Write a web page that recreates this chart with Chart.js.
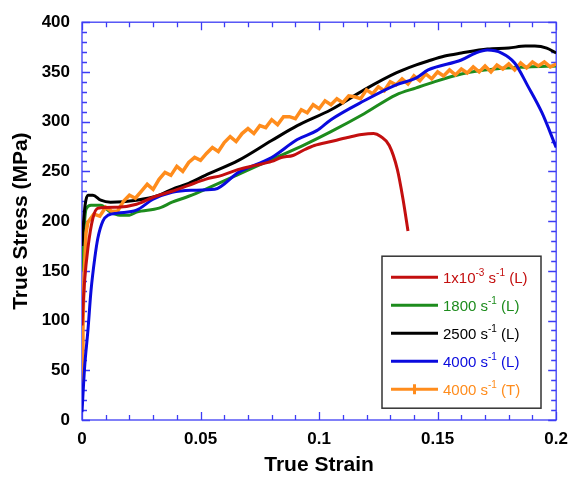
<!DOCTYPE html>
<html>
<head>
<meta charset="utf-8">
<script src="https://cdn.jsdelivr.net/npm/chart.js@4.4.1/dist/chart.umd.min.js"></script>
<style>
  html, body { margin: 0; padding: 0; background: #fff; }
  #wrap { width: 577px; height: 479px; position: relative; }
</style>
</head>
<body>
<div id="wrap"><canvas id="stressChart"></canvas></div>
<script>
// Données (déformation vraie / contrainte vraie en MPa)
const xTickLabels = [0, 0.05, 0.1, 0.15, 0.2];
const yTickLabels = [0, 50, 100, 150, 200, 250, 300, 350, 400];

const quasiStrain = [0, 0.0011, 0.0025, 0.0046, 0.0067, 0.015, 0.023, 0.03, 0.038, 0.045, 0.052, 0.059, 0.066, 0.073, 0.08, 0.084, 0.089, 0.094, 0.098, 0.105, 0.112, 0.118, 0.123, 0.126, 0.1296, 0.133, 0.1354, 0.1375];
const quasiStress = [95, 140, 173, 203, 213, 214, 217, 224, 230, 236, 242, 246, 252, 256, 260, 264, 266, 272, 276, 280, 284, 287, 288, 285, 276, 252, 222, 190];

const s1800Strain = [0, 0.0004, 0.0017, 0.0038, 0.0079, 0.012, 0.016, 0.02, 0.023, 0.0325, 0.038, 0.045, 0.052, 0.066, 0.08, 0.094, 0.105, 0.119, 0.1325, 0.141, 0.146, 0.16, 0.174, 0.188, 0.2];
const s1800Stress = [150, 173, 212, 216, 216, 209, 206, 206, 209, 213, 219, 225, 232, 247, 262, 277, 290, 308, 327, 334, 338, 348, 353, 355, 356];

const s2500Strain = [0, 0.0004, 0.0013, 0.0025, 0.0046, 0.0079, 0.012, 0.023, 0.0325, 0.038, 0.045, 0.052, 0.066, 0.08, 0.0908, 0.105, 0.119, 0.1325, 0.141, 0.146, 0.153, 0.16, 0.171, 0.18, 0.187, 0.191, 0.196, 0.2];
const s2500Stress = [175, 190, 216, 226, 226, 221, 219, 221, 226, 232, 238, 246, 261, 281, 296, 312, 332, 349, 357, 361, 366, 369, 373, 374, 376, 376, 374, 369];

const s4000LStrain = [0, 0.0011, 0.0025, 0.0038, 0.0054, 0.0067, 0.0088, 0.011, 0.015, 0.023, 0.03, 0.038, 0.046, 0.056, 0.066, 0.08, 0.0908, 0.099, 0.105, 0.119, 0.1325, 0.141, 0.146, 0.16, 0.166, 0.171, 0.177, 0.1825, 0.188, 0.194, 0.2];
const s4000LStress = [8, 53, 90, 130, 163, 183, 200, 206, 208, 211, 222, 229, 231, 232, 249, 264, 282, 291, 302, 321, 337, 344, 352, 362, 369, 372, 369, 359, 336, 309, 274];

const s4000TStrain = [0, 0.0004, 0.0008, 0.0017, 0.0025, 0.005, 0.0075, 0.01, 0.0125, 0.015, 0.0175, 0.02, 0.0225, 0.025, 0.0275, 0.03, 0.0325, 0.035, 0.0375, 0.04, 0.0425, 0.045, 0.0475, 0.05, 0.0525, 0.055, 0.0575, 0.06, 0.0625, 0.065, 0.0675, 0.07, 0.0725, 0.075, 0.0775, 0.08, 0.0825, 0.085, 0.0875, 0.09, 0.0925, 0.095, 0.0975, 0.1, 0.1025, 0.105, 0.1075, 0.11, 0.1125, 0.115, 0.1175, 0.12, 0.1225, 0.125, 0.1275, 0.13, 0.1325, 0.135, 0.1375, 0.14, 0.1425, 0.145, 0.1475, 0.15, 0.1525, 0.155, 0.1575, 0.16, 0.1625, 0.165, 0.1675, 0.17, 0.1725, 0.175, 0.1775, 0.18, 0.1825, 0.185, 0.1875, 0.19, 0.1925, 0.195, 0.1975, 0.2];
const s4000TStress = [40, 90, 140, 188, 199, 207, 205, 214, 210, 210, 220, 226, 223, 230, 237, 232, 242, 249, 246, 255, 250, 259, 264, 261, 268, 274, 270, 279, 285, 280, 288, 293, 288, 296, 294, 302, 297, 305, 305, 303, 312, 309, 317, 313, 321, 317, 323, 319, 326, 325, 323, 332, 328, 335, 331, 340, 337, 343, 338, 346, 341, 348, 343, 350, 346, 352, 347, 353, 349, 355, 350, 356, 350, 357, 353, 358, 352, 359, 354, 360, 356, 360, 355, 358];

const frameColor = '#3c3cf5';
const fontFamily = "'Liberation Sans', Arial, sans-serif";

// Libellés de légende : [texte, exposant ?]
const legendItems = [
    { color: '#c30f0f', parts: [['1x10', false], ['-3', true], [' s', false], ['-1', true], [' (L)', false]] },
    { color: '#1d8c1d', parts: [['1800 s', false], ['-1', true], [' (L)', false]] },
    { color: '#000000', parts: [['2500 s', false], ['-1', true], [' (L)', false]] },
    { color: '#0a0ade', parts: [['4000 s', false], ['-1', true], [' (L)', false]] },
    { color: '#ff8c1c', parts: [['4000 s', false], ['-1', true], [' (T)', false]], marker: true }
];

function toPoints(xs, ys) {
    return xs.map((v, i) => ({ x: v, y: ys[i] }));
}

// Cadre bleu + graduations intérieures sur les 4 côtés
const frameTicks = {
    id: 'frameTicks',
    beforeDatasetsDraw(chart) {
        const { ctx, chartArea: a, scales: { x, y } } = chart;
        ctx.save();
        ctx.strokeStyle = frameColor;
        ctx.lineWidth = 1.3;
        ctx.beginPath();
        for (let i = 0; i <= 20; i++) {
            const px = Math.round(x.getPixelForValue(i / 100)) + 0.5;
            const len = i % 5 === 0 ? 8 : 5;
            ctx.moveTo(px, a.bottom); ctx.lineTo(px, a.bottom - len);
            ctx.moveTo(px, a.top); ctx.lineTo(px, a.top + len);
        }
        for (let i = 0; i <= 40; i++) {
            const py = Math.round(y.getPixelForValue(i * 10)) + 0.5;
            const len = i % 5 === 0 ? 8 : 5;
            ctx.moveTo(a.left, py); ctx.lineTo(a.left + len, py);
            ctx.moveTo(a.right, py); ctx.lineTo(a.right - len, py);
        }
        ctx.stroke();
        ctx.strokeRect(a.left, a.top, a.width, a.height);
        ctx.restore();
    }
};

// Légende encadrée avec exposants
const boxLegend = {
    id: 'boxLegend',
    afterDatasetsDraw(chart) {
        const { ctx, chartArea: a } = chart;
        const bx = a.left + 300, by = a.top + 234, bw = 159, bh = 152;
        ctx.save();
        ctx.fillStyle = '#fff';
        ctx.fillRect(bx, by, bw, bh);
        ctx.strokeStyle = '#333';
        ctx.lineWidth = 1.5;
        ctx.strokeRect(bx, by, bw, bh);
        legendItems.forEach((item, i) => {
            const ly = by + 21 + i * 28;
            ctx.strokeStyle = item.color;
            ctx.lineWidth = 3;
            ctx.beginPath();
            ctx.moveTo(bx + 9, ly); ctx.lineTo(bx + 56, ly);
            if (item.marker) {
                ctx.moveTo(bx + 32.5, ly - 5); ctx.lineTo(bx + 32.5, ly + 5);
            }
            ctx.stroke();
            let tx = bx + 61;
            ctx.fillStyle = item.color;
            ctx.textBaseline = 'alphabetic';
            item.parts.forEach(([t, sup]) => {
                ctx.font = (sup ? '10px ' : '15px ') + fontFamily;
                ctx.fillText(t, tx, sup ? ly - 1 : ly + 6);
                tx += ctx.measureText(t).width;
            });
        });
        ctx.restore();
    }
};

const commonLine = { pointRadius: 0, borderWidth: 3, fill: false, cubicInterpolationMode: 'monotone' };

new Chart(document.getElementById('stressChart').getContext('2d'), {
    type: 'line',
    data: {
        datasets: [
            Object.assign({ label: '1x10-3 s-1 (L)', data: toPoints(quasiStrain, quasiStress), borderColor: '#c30f0f' }, commonLine),
            Object.assign({ label: '4000 s-1 (L)', data: toPoints(s4000LStrain, s4000LStress), borderColor: '#0a0ade' }, commonLine),
            Object.assign({ label: '4000 s-1 (T)', data: toPoints(s4000TStrain, s4000TStress), borderColor: '#ff8c1c' }, commonLine, { borderWidth: 3.5, tension: 0, cubicInterpolationMode: 'default' }),
            Object.assign({ label: '2500 s-1 (L)', data: toPoints(s2500Strain, s2500Stress), borderColor: '#000000' }, commonLine),
            Object.assign({ label: '1800 s-1 (L)', data: toPoints(s1800Strain, s1800Stress), borderColor: '#1d8c1d' }, commonLine)
        ]
    },
    options: {
        responsive: true,
        maintainAspectRatio: false,
        animation: false,
        layout: { padding: { top: 19, right: 15, left: 0, bottom: 0 } },
        plugins: { legend: { display: false }, tooltip: { enabled: false } },
        scales: {
            x: {
                type: 'linear',
                min: 0,
                max: 0.2,
                afterFit(scale) { scale.height = 59; },
                afterBuildTicks(scale) { scale.ticks = xTickLabels.map(v => ({ value: v })); },
                ticks: {
                    color: '#000',
                    padding: 9,
                    maxRotation: 0,
                    font: { family: fontFamily, size: 17, weight: 'bold' },
                    callback: v => String(+v.toFixed(2))
                },
                grid: { display: false, drawTicks: false },
                border: { display: false },
                title: {
                    display: true,
                    text: 'True Strain',
                    color: '#000',
                    padding: { top: 0, bottom: 1 },
                    font: { family: fontFamily, size: 21, weight: 'bold' }
                }
            },
            y: {
                type: 'linear',
                min: 0,
                max: 400,
                afterFit(scale) { scale.width = 82; },
                afterBuildTicks(scale) { scale.ticks = yTickLabels.map(v => ({ value: v })); },
                ticks: {
                    color: '#000',
                    padding: 12,
                    font: { family: fontFamily, size: 17, weight: 'bold' }
                },
                grid: { display: false, drawTicks: false },
                border: { display: false },
                title: {
                    display: true,
                    text: 'True Stress (MPa)',
                    color: '#000',
                    padding: { top: 9, bottom: 0 },
                    font: { family: fontFamily, size: 21, weight: 'bold' }
                }
            }
        }
    },
    plugins: [frameTicks, boxLegend]
});
</script>
</body>
</html>
